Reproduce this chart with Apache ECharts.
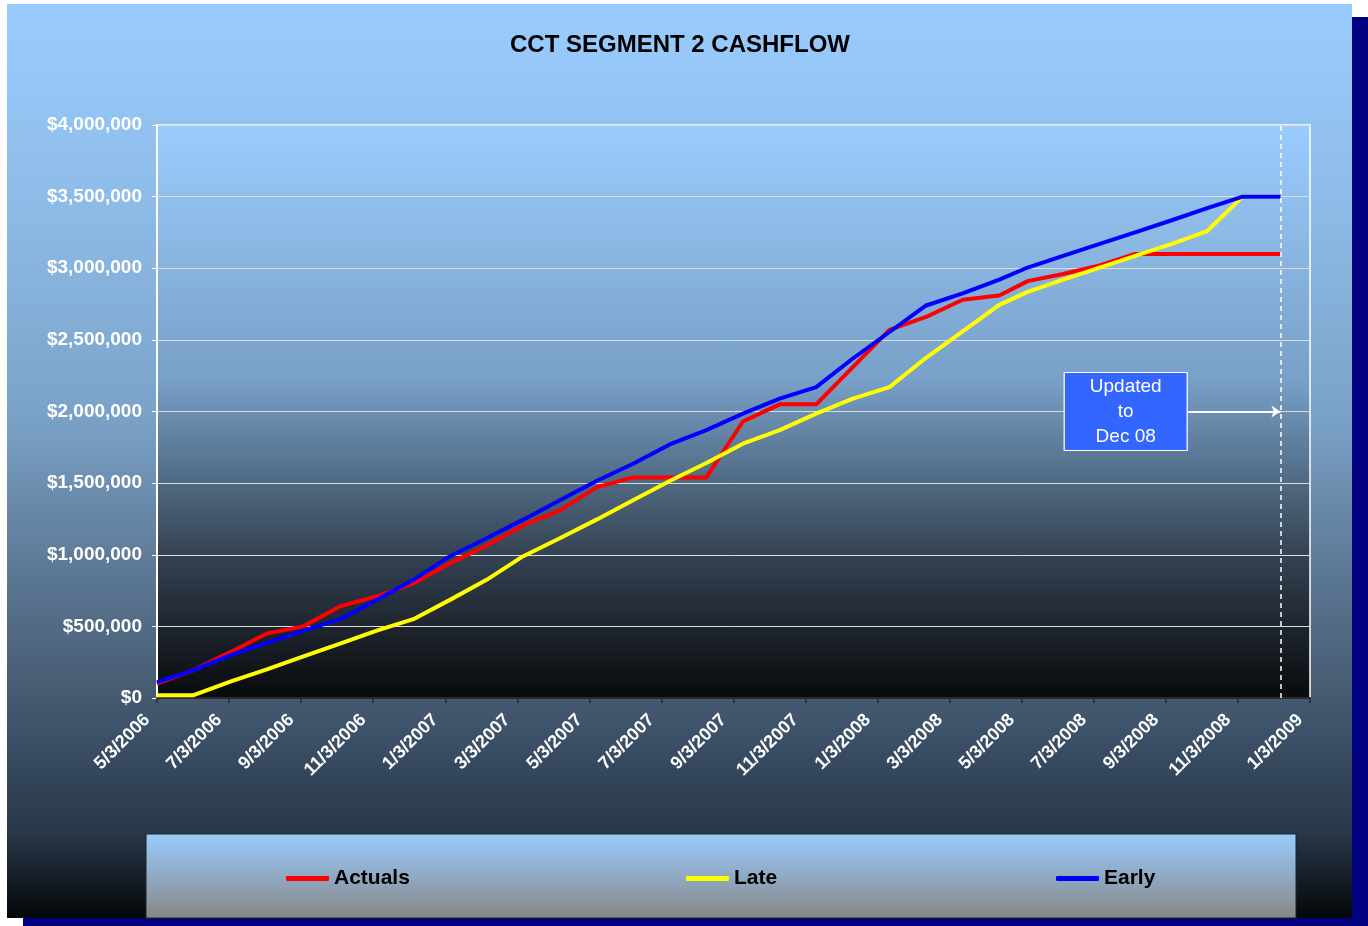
<!DOCTYPE html>
<html>
<head>
<meta charset="utf-8">
<script src="https://cdn.jsdelivr.net/npm/echarts@6/dist/echarts.min.js"></script>
<style>
html,body{margin:0;padding:0;background:#fff;}
#chart{width:1368px;height:926px;}
</style>
</head>
<body>
<div id="chart"></div>
<script>
// ---- data ----
const titleText = 'CCT SEGMENT 2 CASHFLOW';
const axisStart = '2006-05-03';
const axisEnd = '2009-01-03';
const tickStepDays = 61;
const tickLabels = ['5/3/2006','7/3/2006','9/3/2006','11/3/2006','1/3/2007','3/3/2007','5/3/2007','7/3/2007',
  '9/3/2007','11/3/2007','1/3/2008','3/3/2008','5/3/2008','7/3/2008','9/3/2008','11/3/2008','1/3/2009'];
const dates = ['2006-05-03','2006-06-03','2006-07-04','2006-08-04','2006-09-04','2006-10-05','2006-11-05','2006-12-06',
  '2007-01-06','2007-02-06','2007-03-09','2007-04-09','2007-05-10','2007-06-10','2007-07-11','2007-08-11',
  '2007-09-11','2007-10-12','2007-11-12','2007-12-13','2008-01-13','2008-02-13','2008-03-15','2008-04-15',
  '2008-05-09','2008-06-08','2008-07-09','2008-08-08','2008-09-08','2008-10-08','2008-11-07','2008-12-09'];
const actuals = [100000,195000,320000,450000,500000,640000,710000,800000,940000,1065000,1205000,1310000,
  1470000,1540000,1540000,1540000,1930000,2050000,2050000,2310000,2570000,2660000,2780000,2810000,
  2910000,2960000,3020000,3100000,3100000,3100000,3100000,3100000];
const late = [20000,20000,115000,200000,290000,380000,470000,550000,685000,825000,990000,1115000,
  1245000,1380000,1515000,1640000,1775000,1870000,1985000,2090000,2170000,2375000,2560000,2744000,
  2835000,2920000,3005000,3087000,3170000,3260000,3500000,3500000];
const early = [110000,195000,300000,385000,470000,550000,685000,825000,990000,1115000,1245000,1380000,
  1515000,1635000,1770000,1870000,1985000,2090000,2170000,2370000,2555000,2740000,2825000,2920000,
  3005000,3087000,3170000,3250000,3335000,3420000,3500000,3500000];
const seriesNames = ['Actuals','Late','Early'];
const updateNote = {text:'Updated\nto\nDec 08', boxDate:'2008-07-31', arrowFrom:'2008-09-22', value:2000000};

// ---- helpers ----
function dayOf(s){const p=s.split('-').map(Number);const a=axisStart.split('-').map(Number);
  return Math.round((Date.UTC(p[0],p[1]-1,p[2])-Date.UTC(a[0],a[1]-1,a[2]))/86400000);}
const xs = dates.map(dayOf);
const lastDay = xs[xs.length-1];
const pair = arr => arr.map((v,i)=>[xs[i],v]);
const FONT = "'Liberation Sans', Arial, sans-serif";
const lg = (stops)=>new echarts.graphic.LinearGradient(0,0,0,1,stops.map(s=>({offset:s[0],color:s[1]})));

const chart = echarts.init(document.getElementById('chart'));
const option = {
  animation:false,
  backgroundColor:'transparent',
  graphic:[
    {type:'rect',z:-20,shape:{x:23,y:17,width:1345,height:909},style:{fill:'#000080'}},
    {type:'rect',z:-19,shape:{x:7,y:4,width:1345,height:914},style:{fill:lg([
      [0,'#99ccff'],[0.2,'#8fbde9'],[0.446,'#7ba3c9'],[0.603,'#607c99'],[0.759,'#455a70'],
      [0.805,'#3b4f66'],[0.904,'#29384a'],[1,'#050709']])}},
    {type:'rect',z:-18,shape:{x:146,y:834,width:1150,height:84},style:{fill:lg([[0,'#99ccff'],[1,'#878787']]),stroke:'#222',lineWidth:1}}
  ],
  title:{text:titleText,left:510,top:33,padding:0,
    textStyle:{fontFamily:FONT,fontWeight:'bold',fontSize:24,color:'#000'}},
  legend:seriesNames.map((n,i)=>({data:[n],left:[286,686,1056][i],top:868,icon:'roundRect',itemWidth:43,itemHeight:5,
    itemGap:0,padding:0,textStyle:{fontFamily:FONT,fontWeight:'bold',fontSize:21,color:'#000'}})),
  grid:{left:157,right:58,top:125,bottom:228,show:true,borderColor:'#ffffff',borderWidth:1.5,
    backgroundColor:lg([[0,'#99ccff'],[0.2,'#8cb8e4'],[0.445,'#78a0c8'],[0.625,'#506982'],[0.75,'#344252'],[0.876,'#1e252e'],[1,'#080a0c']])},
  xAxis:{type:'value',min:0,max:dayOf(axisEnd),interval:tickStepDays,
    axisLine:{show:true,lineStyle:{color:'#2a2a2a',width:2}},
    axisTick:{show:true,length:5,lineStyle:{color:'#2a2a2a',width:1.5}},
    splitLine:{show:false},
    axisLabel:{rotate:45,margin:22,verticalAlign:'bottom',padding:[0,5,0,0],color:'#fff',fontFamily:FONT,fontWeight:'bold',fontSize:18,
      formatter:v=>tickLabels[Math.round(v/tickStepDays)]||''}},
  yAxis:{type:'value',min:0,max:4000000,interval:500000,
    axisLine:{show:true,lineStyle:{color:'#fff',width:2}},
    axisTick:{show:true,length:5,lineStyle:{color:'#fff',width:1}},
    splitLine:{show:true,lineStyle:{color:'#dcdcdc',width:1}},
    axisLabel:{margin:15,color:'#fff',fontFamily:FONT,fontWeight:'bold',fontSize:19,
      formatter:v=>'$'+v.toLocaleString('en-US')}},
  series:[
    {name:'Actuals',type:'line',data:pair(actuals),showSymbol:false,symbol:'none',color:'#ff0000',
      lineStyle:{width:4,color:'#ff0000'},z:2,
      markLine:{silent:true,symbol:['none','arrow'],symbolSize:9,label:{show:false},animation:false,
        lineStyle:{color:'#fff',width:2,type:'solid'},
        data:[[{coord:[dayOf(updateNote.arrowFrom),updateNote.value]},{coord:[lastDay,updateNote.value]}]]}},
    {name:'Late',type:'line',data:pair(late),showSymbol:false,symbol:'none',color:'#ffff00',
      lineStyle:{width:4,color:'#ffff00'},z:3,
      markLine:{silent:true,symbol:['none','none'],label:{show:false},animation:false,
        lineStyle:{color:'#fff',width:1.5,type:[5,4]},
        data:[{xAxis:lastDay}]}},
    {name:'Early',type:'line',data:pair(early),showSymbol:false,symbol:'none',color:'#0000ff',
      lineStyle:{width:4,color:'#0000ff'},z:4,
      markPoint:{silent:true,animation:false,data:[{coord:[dayOf(updateNote.boxDate),updateNote.value],
        symbol:'rect',symbolSize:[123,78],itemStyle:{color:'#3366ff',borderColor:'#fff',borderWidth:1},
        label:{show:true,position:'inside',formatter:updateNote.text,color:'#fff',fontFamily:FONT,fontSize:19,lineHeight:25}}]}}
  ]
};
chart.setOption(option);
</script>
</body>
</html>
